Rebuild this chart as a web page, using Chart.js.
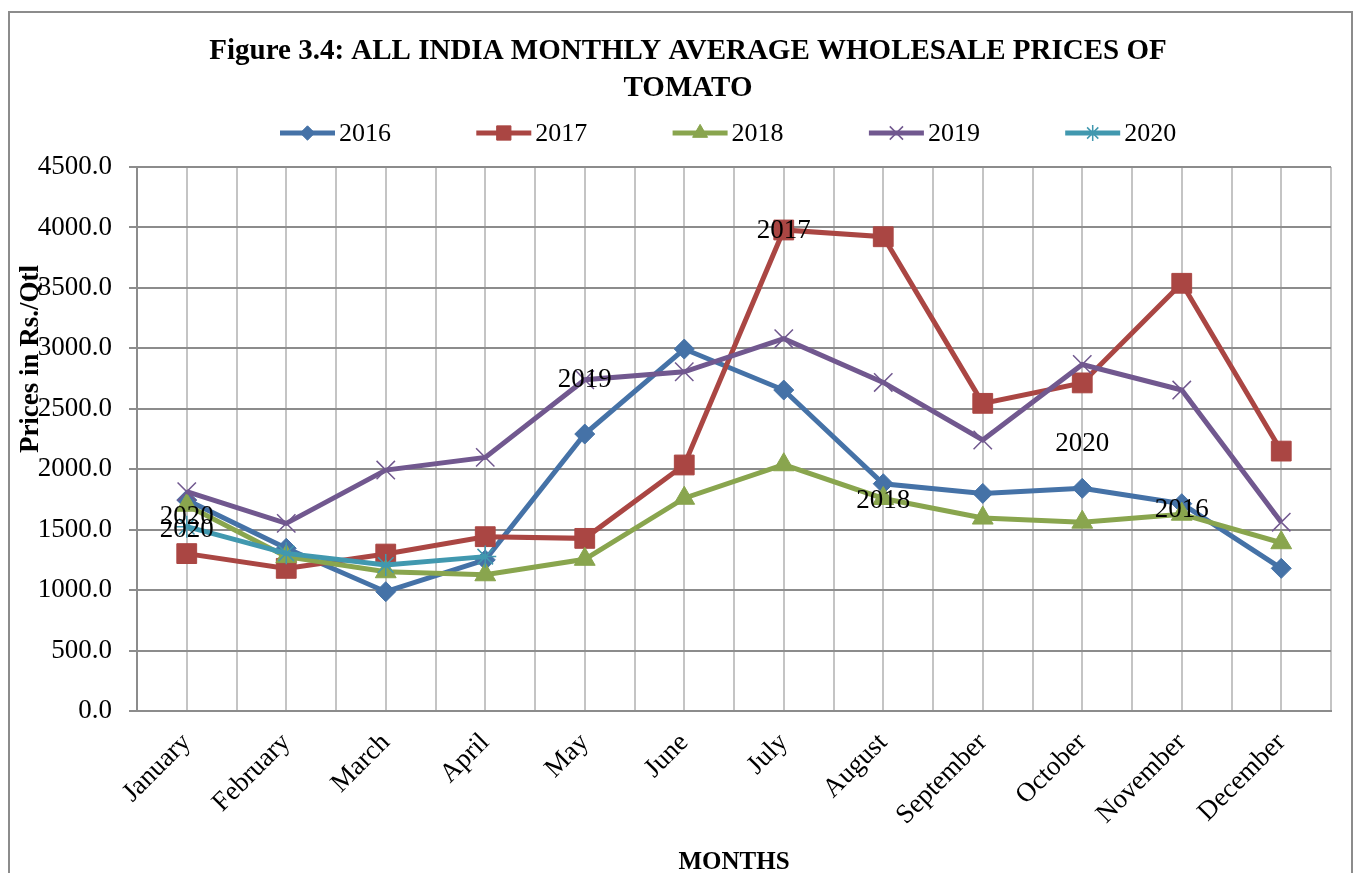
<!DOCTYPE html>
<html>
<head>
<meta charset="utf-8">
<title>All India monthly average wholesale prices of tomato</title>
<script src="https://cdn.jsdelivr.net/npm/chart.js@4.4.1/dist/chart.umd.min.js"></script>
<style>
  html, body { margin: 0; padding: 0; background: #fff; }
  #wrap { width: 1355px; height: 873px; position: relative; }
</style>
</head>
<body>
<div id="wrap"><canvas id="tomatoChart" width="1355" height="873"></canvas></div>
<script>
// categories
var months = ['January', 'February', 'March', 'April', 'May', 'June', 'July',
              'August', 'September', 'October', 'November', 'December'];
var years = ['2016', '2017', '2018', '2019', '2020'];

// prices in Rs./Qtl
var prices2016 = [1745, 1346, 987, 1250, 2291, 2994, 2655, 1880, 1800, 1842, 1715, 1180];
var prices2017 = [1302, 1180, 1298, 1442, 1428, 2035, 3979, 3923, 2545, 2714, 3538, 2150];
var prices2018 = [1702, 1277, 1152, 1127, 1255, 1760, 2037, 1758, 1596, 1562, 1628, 1392];
var prices2019 = [1814, 1552, 1993, 2098, 2740, 2806, 3080, 2718, 2242, 2866, 2655, 1562];
var prices2020 = [1525, 1304, 1208, 1277, null, null, null, null, null, null, null, null];

// y axis ticks
var yTicks = [0, 500, 1000, 1500, 2000, 2500, 3000, 3500, 4000, 4500];

// series name labels on the plot: text, month, price level
var nameLabels = [
  ['2020', 'January', 1607],
  ['2020', 'January', 1497],
  ['2019', 'May', 2738],
  ['2017', 'July', 3972],
  ['2018', 'August', 1738],
  ['2020', 'October', 2213],
  ['2016', 'November', 1667]
];

var titleLines = ['Figure 3.4: ALL INDIA MONTHLY AVERAGE WHOLESALE PRICES OF', 'TOMATO'];

var colors = ['#4572A7', '#AA4643', '#89A54E', '#71588F', '#4198AF'];
var markers = ['rectRot', 'rect', 'triangle', 'crossRot', 'star'];
var markerSize = [10, 14, 12, 13, 11];
var allPrices = [prices2016, prices2017, prices2018, prices2019, prices2020];

var serif = '"Liberation Serif", "Times New Roman", serif';

var datasets = years.map(function (y, i) {
  var thin = i >= 3;
  return {
    label: y,
    data: allPrices[i],
    borderColor: colors[i],
    backgroundColor: colors[i],
    borderWidth: 5,
    pointStyle: markers[i],
    pointRadius: markerSize[i],
    pointHoverRadius: markerSize[i],
    pointBorderWidth: thin ? 1.5 : 1,
    pointBackgroundColor: colors[i],
    pointBorderColor: colors[i],
    tension: 0,
    spanGaps: false,
    order: 5 - i
  };
});

// title, legend, frame and the text that Excel put on the plot
var extras = {
  id: 'extras',
  beforeDraw: function (chart) {
    var ctx = chart.ctx;
    ctx.save();
    ctx.fillStyle = '#fff';
    ctx.fillRect(0, 0, chart.width, chart.height);
    ctx.strokeStyle = '#8c8c8c';
    ctx.lineWidth = 2;
    ctx.strokeRect(9, 12, 1343, 880);

    ctx.fillStyle = '#000';
    ctx.textAlign = 'center';
    ctx.textBaseline = 'middle';
    ctx.font = 'bold 29px ' + serif;
    ctx.fillText(titleLines[0], 688, 52);
    ctx.fillText(titleLines[1], 688, 89);

    // legend
    ctx.font = '26px ' + serif;
    ctx.textAlign = 'left';
    chart.data.datasets.forEach(function (ds, i) {
      var x0 = 280 + i * 196.3, ly = 133;
      ctx.strokeStyle = colors[i];
      ctx.fillStyle = colors[i];
      ctx.lineWidth = 5;
      ctx.beginPath();
      ctx.moveTo(x0, ly);
      ctx.lineTo(x0 + 55, ly);
      ctx.stroke();
      ctx.lineWidth = i >= 3 ? 1.5 : 1;
      Chart.helpers.drawPoint(ctx, {pointStyle: markers[i], radius: markerSize[i] * 0.72, rotation: 0, borderWidth: ctx.lineWidth}, x0 + 27.5, ly);
      ctx.fillStyle = '#000';
      ctx.fillText(ds.label, x0 + 59, ly + 1);
    });
    ctx.restore();
  },
  afterDatasetsDraw: function (chart) {
    var ctx = chart.ctx;
    var xs = chart.scales.x, ys = chart.scales.y;
    ctx.save();
    ctx.fillStyle = '#000';
    ctx.textAlign = 'center';
    ctx.textBaseline = 'middle';
    ctx.font = '27px ' + serif;
    nameLabels.forEach(function (l) {
      ctx.fillText(l[0], xs.getPixelForValue(months.indexOf(l[1])), ys.getPixelForValue(l[2]));
    });
    // y axis title, sits over the tick labels like in the original
    ctx.translate(31, 359);
    ctx.rotate(-Math.PI / 2);
    ctx.font = 'bold 27px ' + serif;
    ctx.fillText('Prices in Rs./Qtl', 0, 0);
    ctx.restore();
  }
};

var ctx = document.getElementById('tomatoChart').getContext('2d');
var tomatoChart = new Chart(ctx, {
  type: 'line',
  data: { labels: months, datasets: datasets },
  plugins: [extras],
  options: {
    responsive: false,
    animation: false,
    layout: { padding: { top: 167, left: 0, right: 24, bottom: 0 } },
    plugins: {
      title: { display: false },
      legend: { display: false },
      tooltip: { enabled: false }
    },
    scales: {
      x: {
        type: 'category',
        offset: true,
        grid: { offset: true, color: '#c4c4c4', lineWidth: 2, drawTicks: false },
        border: { color: '#8c8c8c', width: 2 },
        ticks: {
          autoSkip: false,
          maxRotation: 45,
          minRotation: 45,
          padding: 16,
          color: '#000',
          font: { family: serif, size: 27 }
        },
        title: {
          display: true,
          text: 'MONTHS',
          color: '#000',
          font: { family: serif, size: 25, weight: 'bold', lineHeight: 0.8 },
          padding: { top: 0, bottom: 0 }
        },
        afterFit: function (scale) { scale.height = 162; }
      },
      x2: {
        type: 'category',
        position: 'bottom',
        offset: true,
        grid: { offset: false, color: '#c4c4c4', lineWidth: 2, drawTicks: false },
        border: { display: false },
        ticks: { display: false },
        afterFit: function (scale) { scale.height = 0; }
      },
      y: {
        min: 0,
        max: 4500,
        afterBuildTicks: function (scale) {
          scale.ticks = yTicks.map(function (v) { return { value: v }; });
        },
        grid: { color: '#8c8c8c', lineWidth: 2, tickLength: 8 },
        border: { color: '#8c8c8c', width: 2 },
        ticks: {
          padding: 17,
          color: '#000',
          font: { family: serif, size: 27 },
          callback: function (v) { return Number(v).toFixed(1); }
        },
        afterFit: function (scale) { scale.width = 137; }
      }
    }
  }
});
</script>
</body>
</html>
